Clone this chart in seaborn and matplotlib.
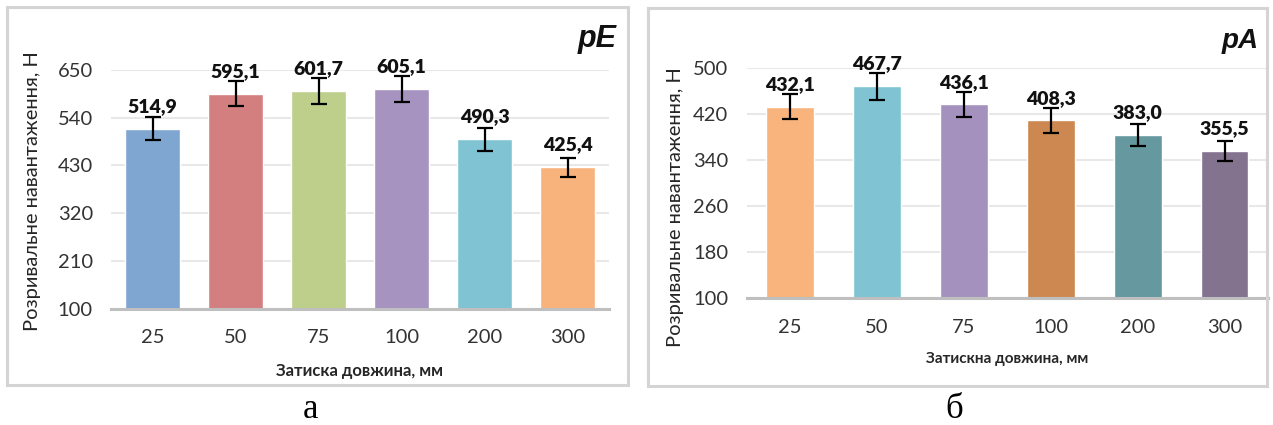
import matplotlib
matplotlib.use("Agg")
import matplotlib.pyplot as plt
from matplotlib.patches import Rectangle
import seaborn as sns
import numpy as np
import pandas as pd

# Clamping lengths, mm
lengths = ["25", "50", "75", "100", "200", "300"]

# pE series: breaking load, N and its spread
pe_load = [514.9, 595.1, 601.7, 605.1, 490.3, 425.4]
pe_err = [26, 29, 31, 30, 26, 21.5]
pe_colors = ["#7FA6D0", "#D47F7F", "#BDCF8A", "#A693BF", "#80C4D4", "#F8B37D"]
pe_ticks = [100, 210, 320, 430, 540, 650]

# pA series
pa_load = [432.1, 467.7, 436.1, 408.3, 383.0, 355.5]
pa_err = [22, 23, 21.5, 21, 19.4, 17.7]
pa_colors = ["#F8B47C", "#80C4D4", "#A591BE", "#CC8850", "#66989F", "#83738F"]
pa_ticks = [100, 180, 260, 340, 420, 500]

sns.set_theme(style="white")
plt.rcParams["font.family"] = ["Lato", "DejaVu Sans"]

W, H = 1273, 425
fig = plt.figure(figsize=(W / 100, H / 100), dpi=100)
fig.patch.set_facecolor("white")


def px_axes(x0, x1, ytop, ybot):
    return fig.add_axes([x0 / W, 1 - ybot / H, (x1 - x0) / W, (ybot - ytop) / H])


def frame(x0, y0, x1, y1):
    fig.patches.append(Rectangle((x0 / W, 1 - y1 / H), (x1 - x0) / W, (y1 - y0) / H,
                                 transform=fig.transFigure, fill=False,
                                 edgecolor="#D4D4D4", linewidth=2.2, zorder=0))


def panel(ax, values, errs, colors, ticks, xlabel, bar_w, xlab_size):
    df = pd.DataFrame({"len": lengths, "load": values})
    sns.barplot(data=df, x="len", y="load", hue="len", palette=colors,
                order=lengths, hue_order=lengths, width=bar_w, legend=False,
                saturation=1, ax=ax, zorder=2)
    ax.errorbar(np.arange(len(values)), values, yerr=errs, fmt="none",
                ecolor="black", elinewidth=1.6, capsize=6, capthick=1.6, zorder=3)
    for i, v in enumerate(values):
        ax.annotate(f"{v:.1f}".replace(".", ","), (i, v), xytext=(0, 10),
                    textcoords="offset points", ha="center", va="bottom",
                    fontsize=14, fontweight="heavy", color="#111111", zorder=4)
    ax.set_ylim(ticks[0], ticks[-1])
    ax.set_xlim(-0.5, len(values) - 0.5)
    ax.set_yticks(ticks)
    ax.set_yticklabels([str(t) for t in ticks])
    ax.yaxis.grid(True, color="#E8E8E8", linewidth=1.5, zorder=0)
    ax.set_axisbelow(True)
    for s in ["top", "right", "left"]:
        ax.spines[s].set_visible(False)
    ax.spines["bottom"].set_color("#BFBFBF")
    ax.spines["bottom"].set_linewidth(2.2)
    ax.tick_params(axis="y", length=0, pad=13, labelsize=14.5, labelcolor="#333333")
    ax.tick_params(axis="x", length=0, pad=15, labelsize=14.5, labelcolor="#333333")
    ax.set_xlabel(xlabel, fontsize=xlab_size, fontweight="bold", color="#262626", labelpad=12)
    ax.set_ylabel("")
    ax.set_facecolor("none")


# Left panel: pE
frame(7, 7, 628, 385)
ax1 = px_axes(111, 609, 70, 308.5)
panel(ax1, pe_load, pe_err, pe_colors, pe_ticks, "Затиска довжина, мм", 0.66, 12)
fig.text(617 / W, 1 - 47 / H, "pE", ha="right", va="baseline", fontsize=22,
         fontweight="bold", fontstyle="italic", family="Liberation Sans", color="#111111")
fig.text(33 / W, 1 - 191 / H, "Розривальне навантаження, Н", rotation=90,
         ha="center", va="center", fontsize=14.5, color="#262626")

# Right panel: pA
frame(648, 8, 1267, 386)
ax2 = px_axes(746.5, 1268, 67.7, 298)
panel(ax2, pa_load, pa_err, pa_colors, pa_ticks, "Затискна довжина, мм", 0.55, 11)
fig.text(1259 / W, 1 - 48 / H, "pA", ha="right", va="baseline", fontsize=20,
         fontweight="bold", fontstyle="italic", family="Liberation Sans", color="#111111")
fig.text(675 / W, 1 - 207 / H, "Розривальне навантаження, Н", rotation=90,
         ha="center", va="center", fontsize=14.5, color="#262626")

# Panel captions
fig.text(311 / W, 1 - 418 / H, "а", ha="center", va="baseline", fontsize=25,
         family="Liberation Serif", color="black")
fig.text(954 / W, 1 - 418 / H, "б", ha="center", va="baseline", fontsize=25,
         family="Liberation Serif", color="black")

fig.savefig("out.png", dpi=100, facecolor="white")
